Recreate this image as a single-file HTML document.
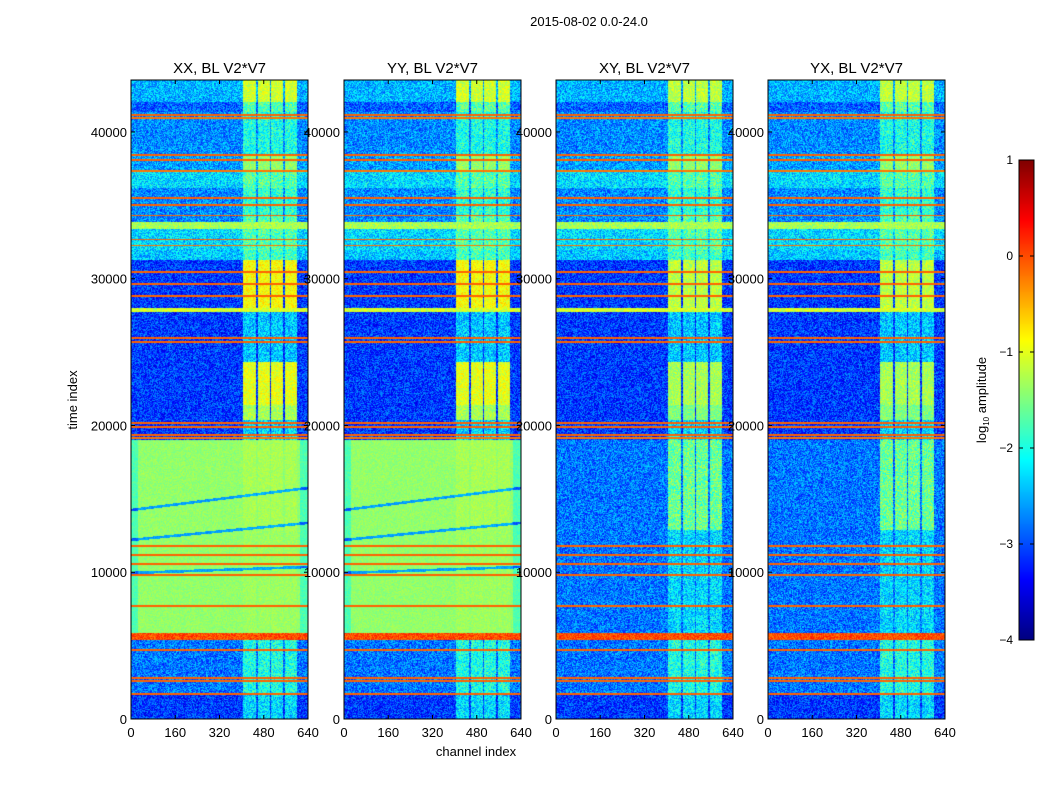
<!DOCTYPE html>
<html><head><meta charset="utf-8"><style>
body{margin:0;background:#fff;width:1050px;height:800px;overflow:hidden;position:relative;font-family:"Liberation Sans",sans-serif}
canvas{position:absolute}
svg{position:absolute;left:0;top:0}
</style></head><body>
<svg id="svg" width="1050" height="800"></svg>
<script>
// ---- data (time index / log10 amplitude) ----
const panelTitles = ["XX, BL V2*V7","YY, BL V2*V7","XY, BL V2*V7","YX, BL V2*V7"];
const panelIsCross = [false,false,true,true];
const bandStart = [0,1770,5380,5860,12880,19010,20370,21400,24330,27730,28000,31280,31960,33390,33870,34340,36180,37270,38430,41360,42040];
const bandEnd   = [1770,5380,5860,12880,19010,20370,21400,24330,27730,28000,31280,31960,33390,33870,34340,36180,37270,38430,41360,42040,43540];
const bgCo      = [-3.1,-2.8,0.0,-1.4,-1.4,-3.1,-3.1,-3.1,-3.1,-1.1,-3.1,-2.4,-2.3,-1.3,-2.7,-2.7,-2.3,-2.6,-2.7,-2.9,-2.5];
const rfiCo     = [-2.3,-2.0,0.0,-1.35,-1.3,-2.3,-1.3,-1.0,-2.4,-1.1,-0.9,-1.8,-1.7,-1.3,-1.7,-1.9,-1.7,-1.4,-2.0,-1.7,-1.1];
const bgCross   = [-3.1,-2.8,0.0,-2.8,-2.8,-3.1,-3.1,-3.1,-3.1,-1.1,-3.1,-2.4,-2.3,-1.3,-2.7,-2.7,-2.3,-2.6,-2.7,-2.9,-2.5];
const rfiCross  = [-2.3,-2.0,0.0,-2.3,-1.6,-2.3,-1.5,-1.3,-2.4,-1.1,-1.2,-1.8,-1.7,-1.3,-1.7,-1.9,-1.7,-1.4,-2.0,-1.7,-1.2];
const rfiChanStart = [405,458,508,557];
const rfiChanEnd   = [453,503,550,600];
const lineTimes = [41157,40952,38431,38090,37341,35501,35024,34307,32671,32263,30459,29641,28823,25961,25689,20169,19897,19352,19148,11788,11175,10562,9812,7700,4702,2794,2589,1704];
const lineValues= [-0.1,-0.2,-0.1,-0.1,-0.2,-0.1,-0.1,-0.1,-0.1,-0.2,-0.1,-0.1,-0.1,-0.1,-0.1,-0.1,-0.1,-0.1,-0.2,-0.1,-0.1,-0.1,-0.1,-0.1,-0.1,-0.1,-0.1,-0.1];
const streakT0 = [12200,14240,9950];
const streakT1 = [13360,15740,10360];
const xTicks = [0,160,320,480,640];
const yTicks = [0,10000,20000,30000,40000];
const cbTicks = [1,0,-1,-2,-3,-4];

// ---- geometry ----
const panelLeft=[131,344,556,768], PW=177, PTOP=80, PBOT=719;
const TMAX=43540, CMAX=640, VMIN=-4, VMAX=1;
const xScale=(c,i)=>panelLeft[i]+c/CMAX*PW;
const yScale=t=>PBOT-t/TMAX*(PBOT-PTOP);
function jet(v){let x=(v-VMIN)/(VMAX-VMIN);x=Math.max(0,Math.min(1,x));
 const cl=a=>Math.max(0,Math.min(1,a));
 return [cl(1.5-Math.abs(4*x-3))*255,cl(1.5-Math.abs(4*x-2))*255,cl(1.5-Math.abs(4*x-1))*255];}
function hash(a,b){let h=(a*374761393+b*668265263)|0;h=(h^(h>>>13))*1274126177|0;return ((h^(h>>>16))>>>0)/4294967296;}

const NS="http://www.w3.org/2000/svg", svg=document.getElementById('svg');
function el(tag,attrs,parent){const e=document.createElementNS(NS,tag);for(const k in attrs)e.setAttribute(k,attrs[k]);(parent||svg).appendChild(e);return e;}

const H=PBOT-PTOP;
for(let p=0;p<4;p++){
 const cv=document.createElement('canvas');cv.width=PW;cv.height=H;
 cv.style.left=panelLeft[p]+'px';cv.style.top=PTOP+'px';
 
 
 document.body.insertBefore(cv,svg);
 const ctx=cv.getContext('2d'),img=ctx.createImageData(PW,H);
 const cross=panelIsCross[p];
 const bg=cross?bgCross:bgCo, rf=cross?rfiCross:rfiCo;
 for(let yy=0;yy<H;yy++){
  const t=(PBOT-(PTOP+yy+0.5))/(PBOT-PTOP)*TMAX;
  let bi=0;for(let k=0;k<bandStart.length;k++){if(t>=bandStart[k]&&t<bandEnd[k]){bi=k;break;}}
  let lineV=null;
  for(let k=0;k<lineTimes.length;k++){if(Math.abs(yScale(lineTimes[k])-(PTOP+yy+0.5))<0.8)lineV=lineValues[k];}
  for(let xx=0;xx<PW;xx++){
   const c=(xx+0.5)/PW*CMAX;
   let inR=false;for(let k=0;k<rfiChanStart.length;k++)if(c>=rfiChanStart[k]&&c<rfiChanEnd[k])inR=true;
   let v;
   if(lineV!==null)v=lineV;
   else{
    v=inR?rf[bi]:bg[bi];
    const smooth=(!cross&&(bi===3||bi===4));
    if(smooth){
     if(c<25||c>610)v-=0.35;
     for(let s=0;s<streakT0.length;s++){const ts=streakT0[s]+(streakT1[s]-streakT0[s])*c/CMAX;if(Math.abs(t-ts)<90)v-=1.2;}
     v+=(hash(xx+p*1000,yy)-0.5)*0.3;
    }else v+=(hash(xx+p*1000,yy)-0.5)*(v<-1.5?1.0:0.6);
   }
   const [r,g,b]=jet(v),o=(yy*PW+xx)*4;
   img.data[o]=r;img.data[o+1]=g;img.data[o+2]=b;img.data[o+3]=255;
  }
 }
 ctx.putImageData(img,0,0);

 const g=el('g',{});
 el('rect',{x:panelLeft[p],y:PTOP,width:PW,height:H,fill:'none',stroke:'#000','stroke-width':1},g);
 const tt=el('text',{x:panelLeft[p]+PW/2,y:73,'text-anchor':'middle','font-size':15},g);
 tt.textContent=panelTitles[p];
 xTicks.forEach(v=>{const x=xScale(v,p);
  el('line',{x1:x,x2:x,y1:PBOT,y2:PBOT-4,stroke:'#000'},g);el('line',{x1:x,x2:x,y1:PTOP,y2:PTOP+4,stroke:'#000'},g);
  const t=el('text',{x:x,y:737,'text-anchor':'middle','font-size':13},g);t.textContent=v;
  });
 yTicks.forEach(v=>{const y=yScale(v);
  el('line',{x1:panelLeft[p],x2:panelLeft[p]+4,y1:y,y2:y,stroke:'#000'},g);el('line',{x1:panelLeft[p]+PW,x2:panelLeft[p]+PW-4,y1:y,y2:y,stroke:'#000'},g);
  const t=el('text',{x:panelLeft[p]-4,y:y+5,'text-anchor':'end','font-size':13},g);t.textContent=v;
  });
}
// labels
let t=el('text',{x:589,y:26,'text-anchor':'middle','font-size':13,});t.textContent='2015-08-02 0.0-24.0';
t=el('text',{x:476,y:756,'text-anchor':'middle','font-size':13,});t.textContent='channel index';
t=el('text',{x:0,y:0,transform:'translate(77,400) rotate(-90)','text-anchor':'middle','font-size':13,});t.textContent='time index';
// colorbar
const CBX=1019,CBW=15,CBT=160,CBB=640;
const cbc=document.createElement('canvas');cbc.width=CBW;cbc.height=CBB-CBT;cbc.style.left=CBX+'px';cbc.style.top=CBT+'px';


document.body.insertBefore(cbc,svg);
const cx=cbc.getContext('2d');
for(let y=0;y<CBB-CBT;y++){const v=VMAX-(y+0.5)/(CBB-CBT)*(VMAX-VMIN);const [r,g,b]=jet(v);cx.fillStyle=`rgb(${r|0},${g|0},${b|0})`;cx.fillRect(0,y,CBW,1);}
el('rect',{x:CBX,y:CBT,width:CBW,height:CBB-CBT,fill:'none',stroke:'#000'});
cbTicks.forEach(v=>{const y=CBT+(VMAX-v)/(VMAX-VMIN)*(CBB-CBT);
 el('line',{x1:CBX,x2:CBX+4,y1:y,y2:y,stroke:'#000'});el('line',{x1:CBX+CBW,x2:CBX+CBW-4,y1:y,y2:y,stroke:'#000'});
 const tx=el('text',{x:1013,y:y+4,'text-anchor':'end','font-size':12});tx.textContent=v<0?'\u2212'+(-v):v;
 });
t=el('text',{x:0,y:0,transform:'translate(986,400) rotate(-90)','text-anchor':'middle','font-size':13,});
t.innerHTML='log<tspan font-size="8" dy="3">10</tspan><tspan dy="-3"> amplitude</tspan>';
</script>
</body></html>
